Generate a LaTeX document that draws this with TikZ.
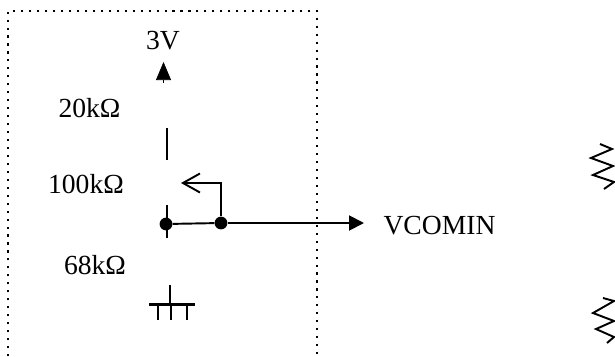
\documentclass[tikz,border=0pt]{standalone}
\usepackage{fontspec}
\setmainfont{Liberation Serif}
\usetikzlibrary{arrows.meta}

\tikzset{
  wire/.style={line width=1.1pt},
  frame/.style={line width=1.2pt, dash pattern=on 1.2pt off 3.33pt},
  lbl/.style={font=\fontsize{15.7}{18}\selectfont, inner sep=0pt},
}

\begin{document}
\begin{tikzpicture}
  \useasboundingbox (0,0) rectangle (12.3,7.12);

  % dotted frame, open at the bottom
  \coordinate (fa) at (0.16,0);
  \coordinate (fb) at (0.16,6.9);
  \coordinate (fc) at (6.34,6.9);
  \coordinate (fd) at (6.34,0);
  \draw [frame] (fa) -- (fb) -- (fc) -- (fd);

  % input nodes position and text
  \node [lbl](vdd) at (3.26,6.3) {3V};
  \node [lbl](ra) at (1.79,4.96) {20kΩ};
  \node [lbl](rb) at (1.72,3.44) {100kΩ};
  \node [lbl](rc) at (1.9,1.82) {68kΩ};
  \node [lbl](out) at (8.79,2.6) {VCOMIN};

  \node [inner sep=0.09cm, circle, fill](u) at (3.32,2.64) {};
  \node [inner sep=0.09cm, circle, fill](v) at (4.42,2.66) {};

  \coordinate (tipa) at (3.27,5.46);
  \coordinate (tipb) at (3.27,5.88);
  \coordinate (sega) at (3.34,4.56);
  \coordinate (segb) at (3.34,3.92);
  \coordinate (taba) at (3.34,3.02);
  \coordinate (tabb) at (3.34,2.36);
  \coordinate (wiper) at (3.62,3.46);
  \coordinate (outend) at (7.28,2.66);

  \draw [line width=0.4pt, -{Triangle[length=0.36cm,width=0.3cm]}] (tipa) -- (tipb);
  \draw [line width=1.3pt] (sega) -- (segb);
  \draw [line width=1.3pt] (taba) -- (tabb);
  \draw [wire] (u) -- (v);
  \draw [wire, -{Triangle[length=0.3cm,width=0.3cm]}] (v) -- (outend);
  \draw [wire, -{Straight Barb[length=0.34cm,width=0.38cm]}] (v) |- (wiper);

  % ground
  \coordinate (gnd) at (3.4,1.04);
  \coordinate (gndtop) at (3.4,1.42);
  \coordinate (gndl) at (2.98,1.04);
  \coordinate (gndr) at (3.9,1.04);
  \draw [line width=1.2pt] (gndtop) -- (gnd);
  \draw [line width=1.7pt] (gndl) -- (gndr);
  \foreach \x in {3.16,3.42,3.74}
    \draw [line width=1.2pt] (\x,1.04) -- (\x,0.72);

  % resistors at the right edge
  \draw [wire] (12.0,4.24) -- (12.24,4.14) -- (11.82,3.96) -- (12.26,3.8)
    -- (11.86,3.62) -- (12.28,3.48) -- (12.08,3.34);
  \draw [wire] (12.06,1.16) -- (12.28,1.10) -- (11.86,0.86) -- (12.28,0.70)
    -- (11.92,0.54) -- (12.28,0.38) -- (12.14,0.26);
\end{tikzpicture}
\end{document}
